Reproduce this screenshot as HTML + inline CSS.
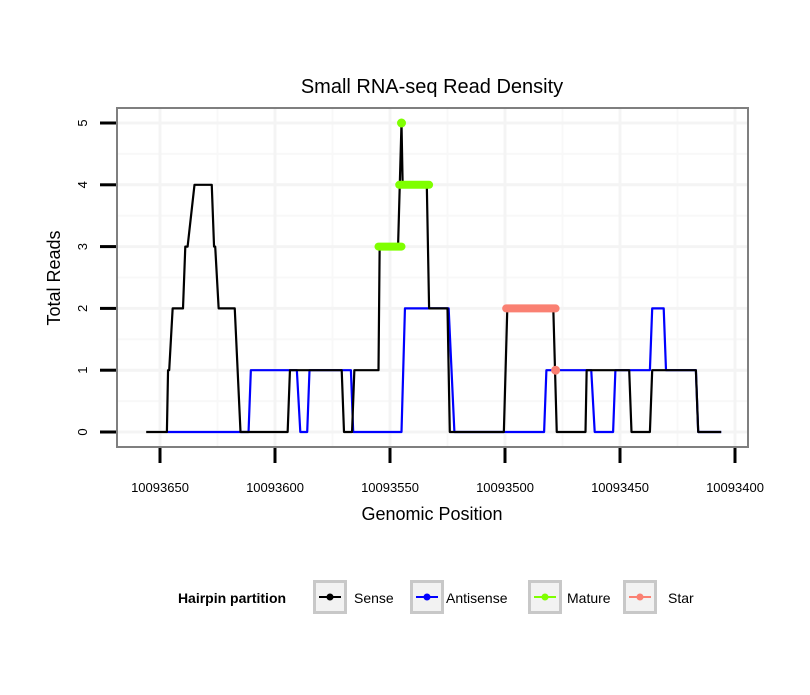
<!DOCTYPE html>
<html><head><meta charset="utf-8"><style>
body{margin:0;background:#fff;font-family:"Liberation Sans",sans-serif}
svg text{font-family:"Liberation Sans",sans-serif}
</style></head><body>
<svg id="chart" width="810" height="690" xmlns="http://www.w3.org/2000/svg">
<rect x="0" y="0" width="810" height="690" fill="#fff"/>
<text x="432" y="93" font-size="20" text-anchor="middle">Small RNA-seq Read Density</text>
<g id="grid"></g>
<g id="series"></g>
<rect x="117" y="108" width="631" height="339" fill="none" stroke="#7f7f7f" stroke-width="2"/>
<g id="axes"></g>
<text x="432" y="520" font-size="18" text-anchor="middle">Genomic Position</text>
<text transform="translate(60,278) rotate(-90)" font-size="18" text-anchor="middle">Total Reads</text>
<g id="legend">
<text x="232" y="603" font-size="14" font-weight="bold" text-anchor="middle">Hairpin partition</text>
</g>
</svg>
<script>
const xTicks=[10093650,10093600,10093550,10093500,10093450,10093400];
const yTicks=[0,1,2,3,4,5];
const sensePos=[10093656,10093647,10093646.5,10093646,10093644.5,10093640,10093639,10093638,10093635,10093627.5,10093626.5,10093626,10093624.5,10093617.5,10093615,10093594.5,10093593.5,10093571,10093570,10093566.5,10093565.5,10093555,10093554.5,10093546.5,10093545,10093544.5,10093534,10093533,10093525,10093524,10093500.5,10093499,10093479,10093477.5,10093465,10093464.5,10093446,10093445,10093437,10093436,10093417,10093416,10093406];
const senseVal=[0,0,1,1,2,2,3,3,4,4,3,3,2,2,0,0,1,1,0,0,1,1,3,3,5,4,4,2,2,0,0,2,2,0,0,1,1,0,0,1,1,0,0];
const antiPos=[10093647,10093611.5,10093610.5,10093590.5,10093589,10093586,10093585,10093567,10093566,10093545,10093543.5,10093524.5,10093522,10093483,10093482,10093462.5,10093461,10093453,10093452,10093437,10093436,10093431,10093430,10093417,10093416,10093406];
const antiVal=[0,0,1,1,0,0,1,1,0,0,2,2,0,0,1,1,0,0,1,1,2,2,1,1,0,0];
const matureSegStart=[10093555,10093546];
const matureSegEnd=[10093545,10093533];
const matureSegVal=[3,4];
const maturePointPos=[10093545];
const maturePointVal=[5];
const starSegStart=[10093499.5];
const starSegEnd=[10093478];
const starSegVal=[2];
const starPointPos=[10093478];
const starPointVal=[1];
const legendLabels=["Sense","Antisense","Mature","Star"];
const legendColors=["#000","#0000ff","#7fff00","#fa8072"];

const X0=117,X1=748,Y0=108,Y1=447;
const xs=p=>160+(10093650-p)*2.3;
const ys=v=>432-v*61.8;
const NS="http://www.w3.org/2000/svg";
function mk(tag,attrs,parent){const e=document.createElementNS(NS,tag);for(const k in attrs)e.setAttribute(k,attrs[k]);parent.appendChild(e);return e;}
const grid=document.getElementById('grid'),series=document.getElementById('series'),axes=document.getElementById('axes'),legend=document.getElementById('legend');
mk('rect',{x:X0,y:Y0,width:X1-X0,height:Y1-Y0,fill:'#fff'},grid);
for(let i=0;i<xTicks.length-1;i++){const x=(xs(xTicks[i])+xs(xTicks[i+1]))/2;mk('line',{x1:x,x2:x,y1:Y0,y2:Y1,stroke:'#f8f8f8','stroke-width':2},grid);}
for(let i=0;i<yTicks.length-1;i++){const y=(ys(yTicks[i])+ys(yTicks[i+1]))/2;mk('line',{x1:X0,x2:X1,y1:y,y2:y,stroke:'#f8f8f8','stroke-width':2},grid);}
xTicks.forEach(t=>{const x=xs(t);if(x>X0&&x<X1){const l=mk('line',{x1:x,x2:x,y1:Y0,y2:Y1,stroke:'#f4f4f4','stroke-width':3},grid);

}
const tk=mk('line',{x1:x,x2:x,y1:Y1+1,y2:Y1+16,stroke:'#000','stroke-width':3},axes);


const tx=mk('text',{x:x,y:Y1+45,'font-size':13,'text-anchor':'middle'},axes);tx.textContent=t;

});
yTicks.forEach(t=>{const y=ys(t);const l=mk('line',{x1:X0,x2:X1,y1:y,y2:y,stroke:'#f4f4f4','stroke-width':3},grid);


const tk=mk('line',{x1:100,x2:X0-1,y1:y,y2:y,stroke:'#000','stroke-width':3},axes);


const tx=mk('text',{transform:`translate(87,${y}) rotate(-90)`,'font-size':13,'text-anchor':'middle'},axes);tx.textContent=t;

});
function line(pos,val,color,name){const p=mk('polyline',{points:pos.map((q,i)=>xs(q)+','+ys(val[i])).join(' '),fill:'none',stroke:color,'stroke-width':2.2,'stroke-linejoin':'round'},series);

}
line(antiPos,antiVal,'#0000ff','antisense-line');
line(sensePos,senseVal,'#000','sense-line');
function segs(s,e,v,color,name){s.forEach((q,i)=>{const l=mk('line',{x1:xs(q),x2:xs(e[i]),y1:ys(v[i]),y2:ys(v[i]),stroke:color,'stroke-width':8,'stroke-linecap':'round'},series);

});}
function pts(p,v,color,name){p.forEach((q,i)=>{const c=mk('circle',{cx:xs(q),cy:ys(v[i]),r:4.5,fill:color},series);

});}
segs(matureSegStart,matureSegEnd,matureSegVal,'#7fff00','mature-segment');
pts(maturePointPos,maturePointVal,'#7fff00','mature-point');
segs(starSegStart,starSegEnd,starSegVal,'#fa8072','star-segment');
pts(starPointPos,starPointVal,'#fa8072','star-point');
const keyX=[313,410,528,623],lblX=[354,446,567,668];
legendLabels.forEach((lab,i)=>{const g=mk('g',{},legend);


mk('rect',{x:keyX[i]+1.5,y:581.5,width:31,height:31,fill:'#f2f2f2',stroke:'#c8c8c8','stroke-width':3},g);
mk('line',{x1:keyX[i]+6,x2:keyX[i]+28,y1:597,y2:597,stroke:legendColors[i],'stroke-width':2},g);
mk('circle',{cx:keyX[i]+17,cy:597,r:3.5,fill:legendColors[i]},g);
const t=mk('text',{x:lblX[i],y:603,'font-size':14},g);t.textContent=lab;});
</script>
</body></html>
